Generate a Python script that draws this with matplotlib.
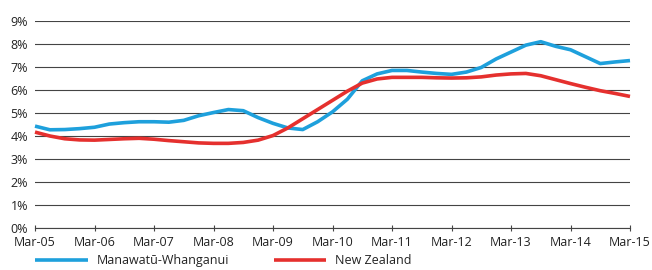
import numpy as np
import matplotlib
matplotlib.use("Agg")
import matplotlib.pyplot as plt

plt.rcParams['font.family'] = ['Open Sans', 'DejaVu Sans']

# quarterly values, Mar-05 .. Mar-15
year_labels = ["Mar-05", "Mar-06", "Mar-07", "Mar-08", "Mar-09", "Mar-10",
               "Mar-11", "Mar-12", "Mar-13", "Mar-14", "Mar-15"]
manawatu = [4.43, 4.27, 4.28, 4.32, 4.38, 4.52, 4.58, 4.62, 4.62, 4.60,
            4.68, 4.88, 5.02, 5.15, 5.10, 4.80, 4.55, 4.35, 4.28, 4.62,
            5.05, 5.60, 6.40, 6.70, 6.85, 6.85, 6.78, 6.72, 6.68, 6.78,
            6.98, 7.35, 7.65, 7.95, 8.10, 7.90, 7.75, 7.45, 7.15, 7.22,
            7.28]
new_zealand = [4.17, 4.00, 3.88, 3.83, 3.82, 3.85, 3.88, 3.90, 3.86, 3.80,
               3.75, 3.70, 3.68, 3.68, 3.72, 3.82, 4.02, 4.35, 4.75, 5.15,
               5.55, 5.95, 6.30, 6.48, 6.55, 6.55, 6.55, 6.53, 6.52, 6.53,
               6.57, 6.65, 6.70, 6.72, 6.62, 6.45, 6.28, 6.12, 5.97, 5.85,
               5.72]

t = np.arange(len(manawatu)) / 4.0

fig = plt.figure(figsize=(6.52, 2.70), dpi=100)
ax = fig.add_axes([35 / 652, 1 - 228 / 270, 595 / 652, 207 / 270])

ax.plot(t, manawatu, color='#1ea0dc', lw=2.6, label='Manawatū-Whanganui',
        solid_capstyle='butt', clip_on=False)
ax.plot(t, new_zealand, color='#e5302e', lw=2.6, label='New Zealand',
        solid_capstyle='butt', clip_on=False)

ax.set_xlim(0, 10)
ax.set_ylim(0, 9)
ax.set_yticks(range(10))
ax.set_yticklabels([f"{v}%" for v in range(10)])
ax.set_xticks(range(len(year_labels)))
ax.set_xticklabels(year_labels)

ax.grid(axis='y', color='#444444', lw=0.8)
ax.set_axisbelow(True)
for s in ['top', 'right', 'left']:
    ax.spines[s].set_visible(False)
ax.spines['bottom'].set_color('#444444')
ax.spines['bottom'].set_linewidth(0.8)

ax.tick_params(axis='y', length=0, pad=5, labelsize=9, labelcolor='#222222')
ax.tick_params(axis='x', direction='inout', length=5, width=0.8,
               color='#444444', pad=3, labelsize=9, labelcolor='#222222')

ax.legend(loc='upper left', bbox_to_anchor=(0, -0.125), ncol=2, frameon=False,
          handlelength=4.2, handletextpad=0.7, columnspacing=3.6, fontsize=9,
          borderaxespad=0, borderpad=0, labelcolor='#222222')

fig.savefig("out.png", dpi=100)
